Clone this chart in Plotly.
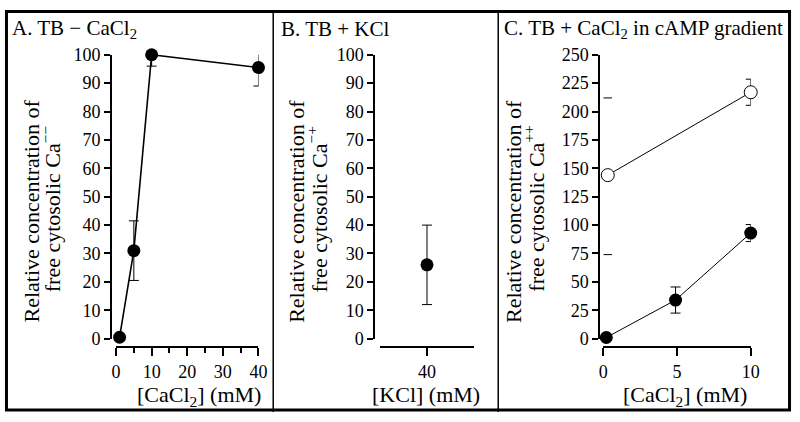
import plotly.graph_objects as go

# ---------------- data ----------------
A_x = [1, 5, 10, 40]
A_y = [0.5, 31, 100, 95.5]
A_err = [0, 10.5, 4, 6.5]
A_xticks = [0, 10, 20, 30, 40]
A_minor = [5, 15, 25, 35]

B_x = [40]
B_y = [26]
B_err = [14]
B_xticks = [40]

C_x = [0.2, 4.9, 10]
C_filled = [1, 34, 93]
C_filled_err = [0, 11.5, 7.5]
C_open_x = [0.3, 10]
C_open = [144, 217]
C_open_err = [0, 11.5]
C_cap_x = [0.3, 0.3]
C_cap_y = [212, 74]
C_xticks = [0, 5, 10]

W, H = 800, 422
FONT = "Liberation Serif, Times New Roman, serif"


def px(x):
    return x / W


def py(y):
    return (H - y) / H


fig = go.Figure()

err_style = dict(type="data", color="black", thickness=1, width=5)

# Panel A
fig.add_trace(go.Scatter(x=A_x, y=A_y, mode="lines+markers",
                         line=dict(color="black", width=1.6),
                         marker=dict(color="black", size=13),
                         error_y=dict(array=A_err, **err_style),
                         cliponaxis=False, xaxis="x", yaxis="y"))
# Panel B
fig.add_trace(go.Scatter(x=B_x, y=B_y, mode="markers",
                         marker=dict(color="black", size=13),
                         error_y=dict(array=B_err, **err_style),
                         cliponaxis=False, xaxis="x2", yaxis="y2"))
# Panel C
fig.add_trace(go.Scatter(x=C_open_x, y=C_open, mode="lines+markers",
                         line=dict(color="black", width=1),
                         marker=dict(color="white", size=13,
                                     line=dict(color="black", width=1)),
                         error_y=dict(array=C_open_err, **err_style),
                         cliponaxis=False, xaxis="x3", yaxis="y3"))
fig.add_trace(go.Scatter(x=C_x, y=C_filled, mode="lines+markers",
                         line=dict(color="black", width=1),
                         marker=dict(color="black", size=13),
                         error_y=dict(array=C_filled_err, **err_style),
                         cliponaxis=False, xaxis="x3", yaxis="y3"))
fig.add_trace(go.Scatter(x=C_cap_x, y=C_cap_y, mode="markers",
                         marker=dict(symbol="line-ew", size=6,
                                     line=dict(color="black", width=1)),
                         cliponaxis=False, xaxis="x3", yaxis="y3"))

ydom = [py(345), py(47)]
xpos = py(354)


def tf():
    return dict(family=FONT, size=18, color="black")


def common_x():
    return dict(showline=True, linecolor="black", linewidth=2, ticks="outside",
                ticklen=8, tickwidth=2, tickcolor="black", showgrid=False,
                zeroline=False, tickfont=tf(), anchor="free", position=xpos)


def common_y():
    return dict(showline=True, linecolor="black", linewidth=2, ticks="outside",
                ticklen=6, tickwidth=2, tickcolor="black", showgrid=False,
                zeroline=False, tickfont=tf(), anchor="free", domain=ydom)


fig.update_layout(
    width=W, height=H, margin=dict(l=0, r=0, t=0, b=0),
    font=dict(family=FONT, size=18, color="black"),
    paper_bgcolor="white", plot_bgcolor="rgba(0,0,0,0)", showlegend=False,
    xaxis=dict(domain=[px(113), px(258)], range=[0, 40], tickvals=A_xticks,
               minor=dict(tickvals=A_minor, ticks="outside", ticklen=5,
                          tickwidth=2, tickcolor="black"), **common_x()),
    yaxis=dict(range=[0, 100], dtick=10, position=px(108), **common_y()),
    xaxis2=dict(domain=[px(382), px(477)], range=[35, 45], tickvals=B_xticks,
                **common_x()),
    yaxis2=dict(range=[0, 100], dtick=10, position=px(376), **common_y()),
    xaxis3=dict(domain=[px(609), px(759)], range=[0, 10], tickvals=C_xticks,
                **common_x()),
    yaxis3=dict(range=[0, 250], dtick=25, position=px(605), **common_y()),
)

ann = []


def text(x, y, t, size, xanchor="center", yanchor="middle", angle=0):
    ann.append(dict(x=px(x), y=py(y), xref="paper", yref="paper", text=t,
                    showarrow=False, xanchor=xanchor, yanchor=yanchor,
                    textangle=angle,
                    font=dict(family=FONT, size=size, color="black")))


# panel titles
text(5, 20, "A. TB − CaCl<sub>2</sub>", 21, xanchor="left")
text(279, 20, "B. TB + KCl", 21, xanchor="left")
text(506, 20, "C. TB + CaCl<sub>2</sub> in cAMP gradient", 21, xanchor="left")

# y titles
for c1, c2, sup in [(26, 47, "−−"), (296, 318, "−+"), (517, 539, "++")]:
    text(c1, 211, "Relative concentration of", 22, angle=-90)
    text(c2, 209, "free cytosolic Ca<sup>" + sup + "</sup>", 22, angle=-90)

# x titles
text(197, 405, "[CaCl<sub>2</sub>] (mM)", 22)
text(428, 404, "[KCl] (mM)", 22)
text(692, 405, "[CaCl<sub>2</sub>] (mM)", 22)

fig.update_layout(annotations=ann)

shapes = [
    dict(type="rect", xref="paper", yref="paper", x0=px(1.5), x1=px(798.5),
         y0=py(420), y1=py(1.5), line=dict(color="black", width=3)),
    dict(type="line", xref="paper", yref="paper", x0=px(273), x1=px(273),
         y0=0, y1=1, line=dict(color="black", width=1.5)),
    dict(type="line", xref="paper", yref="paper", x0=px(502), x1=px(502),
         y0=0, y1=1, line=dict(color="black", width=1.5)),
]
fig.update_layout(shapes=shapes)

fig.write_html(
    "out.html",
    config={"displayModeBar": False},
    post_script="document.documentElement.style.margin='0';"
                "document.body.style.margin='0';"
                "document.body.style.overflow='hidden';",
)
